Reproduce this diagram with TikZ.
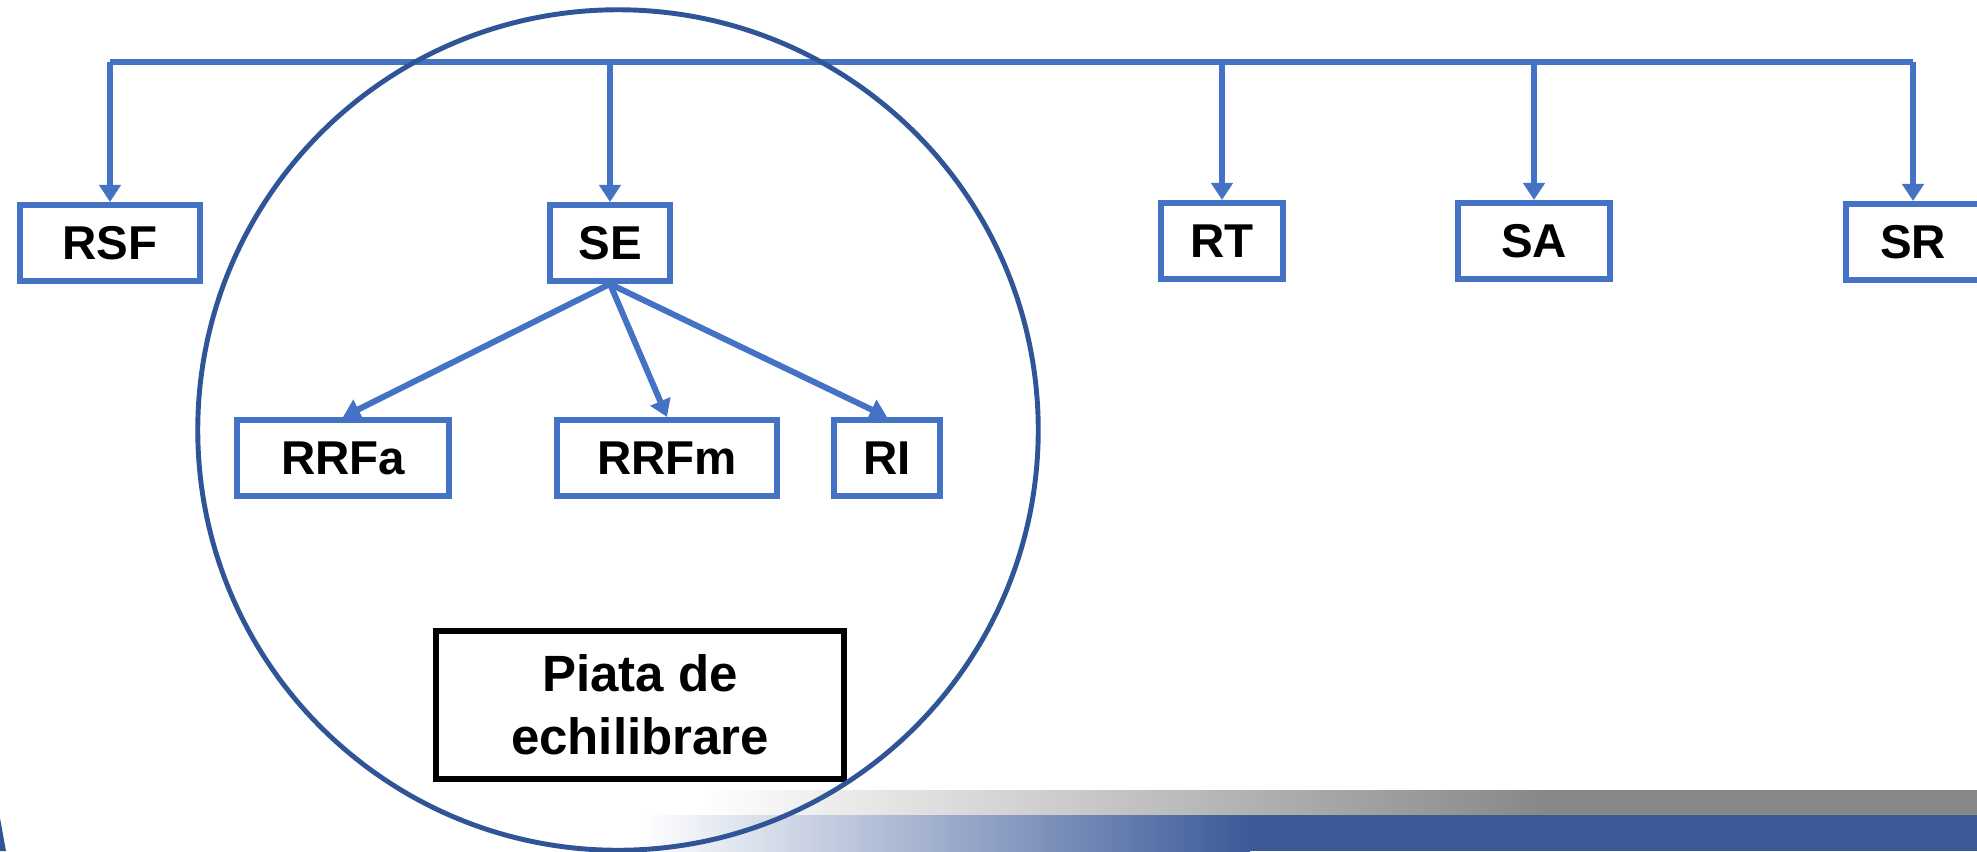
\documentclass[tikz,border=0pt]{standalone}
\usepackage{fontspec}
\setmainfont{Liberation Sans}
\usetikzlibrary{arrows.meta}
\definecolor{boxblue}{HTML}{4472C4}
\definecolor{ringblue}{HTML}{2F5597}
\definecolor{bandblue}{HTML}{3C5A99}
\definecolor{bandgray}{HTML}{878787}

\begin{document}
\begin{tikzpicture}[x=0.01cm, y={(0cm,-0.01cm)}, line width=1.7pt,
  main/.style = {draw=boxblue, fill=white, minimum height=0.76cm, inner sep=0pt, font=\fontsize{13.5}{16}\selectfont\bfseries},
  arr/.style = {draw=boxblue, -{Triangle[width=0.21cm,length=0.17cm]}}]
\useasboundingbox (0,0) rectangle (1977,851);
% bottom bands
\shade[left color=white, right color=bandgray] (700,790) rectangle (1550,815);
\fill[bandgray] (1550,790) rectangle (1977,815);
\shade[left color=white, right color=bandblue] (640,815) rectangle (1250,851);
\fill[bandblue] (1250,815) rectangle (1977,851);
\fill[ringblue] (0,818) -- (6,851) -- (0,851) -- cycle;

\node[main, minimum width=1.80cm] (1) at (110,243) {RSF};
\node[main, minimum width=1.19cm] (2) at (610,243) {SE};
\node[main, minimum width=1.22cm] (3) at (1222,241) {RT};
\node[main, minimum width=1.51cm] (4) at (1534,241) {SA};
\node[main, minimum width=1.34cm] (5) at (1913,242) {SR};
\node[main, minimum width=2.11cm] (6) at (343,458) {RRFa};
\node[main, minimum width=2.20cm] (7) at (667,458) {RRFm};
\node[main, minimum width=1.05cm] (8) at (887,458) {RI};
\node[main, draw=black, minimum width=4.07cm, minimum height=1.47cm, align=center,
  font=\fontsize{14.5}{18}\selectfont\bfseries] (9) at (640,705) {Piata de\\echilibrare};

\coordinate (top) at (0,62);
\draw[boxblue] (1 |- top) -- (5 |- top);
\foreach \n in {1,...,5}
  \draw[arr] (\n |- top) -- (\n);
\draw[arr] (2.south) -- (6.north);
\draw[arr] (2.south) -- (7.north);
\draw[arr] (2.south) -- (8.north);

\draw[ringblue, line width=1.4pt] (618,430) circle [radius=4.2cm];

\end{tikzpicture}
\end{document}
